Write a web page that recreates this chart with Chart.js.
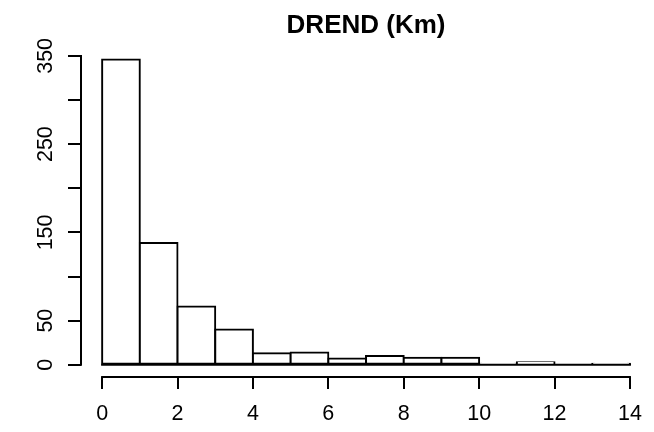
<!DOCTYPE html>
<html>
<head>
<meta charset="utf-8">
<script src="https://cdn.jsdelivr.net/npm/chart.js@4"></script>
<style>
  html, body { margin: 0; padding: 0; background: #fff; }
  #wrap { width: 654px; height: 432px; }
</style>
</head>
<body>
<div id="wrap"><canvas id="histChart" width="654" height="432"></canvas></div>
<script>
// histogram bins (Km) and counts
const binStarts = [0, 1, 2, 3, 4, 5, 6, 7, 8, 9, 10, 11, 12, 13];
const counts = [346, 138, 66, 40, 13, 14, 7, 10, 8, 8, 1, 3, 0, 1];
const xTicks = [0, 2, 4, 6, 8, 10, 12, 14];
const yTicks = [0, 50, 100, 150, 200, 250, 300, 350];
const yLabelsShown = [0, 50, 150, 250, 350];

const axisFont = { family: 'Liberation Sans, Arial, sans-serif', size: 21.5 };

// R style axis lines (first to last tick) plus the bars' common bottom edge
const rAxes = {
  id: 'rAxes',
  afterDraw(chart) {
    const ctx = chart.ctx;
    const xs = chart.scales.x, ys = chart.scales.y;
    const area = chart.chartArea;
    ctx.save();
    ctx.strokeStyle = '#000';
    ctx.lineWidth = 2;
    ctx.beginPath();
    ctx.moveTo(area.left, ys.getPixelForValue(yTicks[0]) + 1);
    ctx.lineTo(area.left, ys.getPixelForValue(yTicks[yTicks.length - 1]) - 1);
    ctx.moveTo(xs.getPixelForValue(xTicks[0]) - 1, area.bottom);
    ctx.lineTo(xs.getPixelForValue(xTicks[xTicks.length - 1]) + 1, area.bottom);
    const base = ys.getPixelForValue(0);
    ctx.moveTo(xs.getPixelForValue(binStarts[0]) - 1, base);
    ctx.lineTo(xs.getPixelForValue(binStarts[binStarts.length - 1] + 1) + 1, base);
    ctx.stroke();
    ctx.restore();
  }
};

const ctx = document.getElementById('histChart').getContext('2d');
const histChart = new Chart(ctx, {
  type: 'bar',
  data: {
    datasets: [{
      data: binStarts.map((b, i) => ({ x: b + 0.5, y: counts[i] })),
      backgroundColor: '#ffffff',
      borderColor: '#000000',
      borderWidth: 2,
      borderSkipped: false,
      inflateAmount: 1,
      barPercentage: 1,
      categoryPercentage: 1
    }]
  },
  options: {
    responsive: false,
    animation: false,
    layout: { padding: { left: 0, right: 1, top: 0, bottom: 0 } },
    plugins: {
      legend: { display: false },
      tooltip: { enabled: false },
      title: {
        display: true,
        fullSize: false,
        text: 'DREND (Km)',
        color: '#000',
        font: { family: 'Liberation Sans, Arial, sans-serif', size: 26, weight: 'bold' },
        padding: { top: 10, bottom: 6 }
      }
    },
    scales: {
      x: {
        type: 'linear',
        offset: false,
        min: -0.56,
        max: 14.56,
        afterBuildTicks: s => { s.ticks = xTicks.map(v => ({ value: v })); },
        afterFit: s => { s.height = 55; },
        border: { display: false },
        grid: { offset: false, drawOnChartArea: false, drawTicks: true, tickLength: 12, color: '#000', lineWidth: 2 },
        ticks: { color: '#000', font: axisFont, padding: 12, maxRotation: 0, autoSkip: false }
      },
      y: {
        min: -13.84,
        max: 359.84,
        afterBuildTicks: s => { s.ticks = yTicks.map(v => ({ value: v })); },
        afterFit: s => { s.width = 81; },
        border: { display: false },
        grid: { drawOnChartArea: false, drawTicks: true, tickLength: 13, color: '#000', lineWidth: 2 },
        ticks: {
          color: '#000',
          font: axisFont,
          padding: 4,
          minRotation: 90,
          maxRotation: 90,
          crossAlign: 'center',
          autoSkip: false,
          callback: v => yLabelsShown.includes(v) ? String(v) : ''
        }
      }
    }
  },
  plugins: [rAxes]
});
</script>
</body>
</html>
